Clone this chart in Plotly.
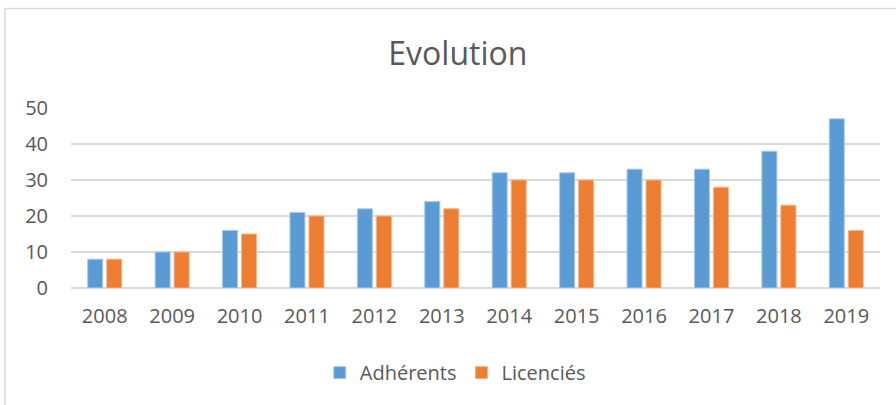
import plotly.graph_objects as go

years = ["2008", "2009", "2010", "2011", "2012", "2013", "2014", "2015", "2016", "2017", "2018", "2019"]
adherents = [8, 10, 16, 21, 22, 24, 32, 32, 33, 33, 38, 47]
licencies = [8, 10, 15, 20, 20, 22, 30, 30, 30, 28, 23, 16]
y_ticks = [0, 10, 20, 30, 40, 50]

FONT = "Open Sans"
TXT = "#595959"

fig = go.Figure()
fig.add_trace(go.Bar(
    x=years, y=adherents, name="Adhérents",
    marker=dict(color="#5B9BD5", line=dict(color="#A9C9EA", width=1)),
))
fig.add_trace(go.Bar(
    x=years, y=licencies, name="Licenciés",
    marker=dict(color="#ED7D31", line=dict(color="#F5B48A", width=1)),
))

fig.update_layout(
    width=896, height=405,
    margin=dict(l=71, r=16, t=108, b=117),
    paper_bgcolor="white", plot_bgcolor="white",
    barmode="group", bargap=0.436, bargroupgap=0.21,
    font=dict(family=FONT, color=TXT, size=20),
    title=dict(text="Evolution", x=0.511, xanchor="center", y=0.868, yanchor="middle",
               xref="container", font=dict(family=FONT, size=32, color=TXT)),
    showlegend=True,
    legend=dict(orientation="h", x=0.475, xanchor="center", y=-0.47, yanchor="middle",
                font=dict(family=FONT, size=20, color=TXT), itemwidth=30,
                traceorder="normal"),
    xaxis=dict(showgrid=False, showline=False, ticks="", tickfont=dict(size=20, color=TXT),
               ticklabelstandoff=14),
    yaxis=dict(range=[0, 50], tickvals=y_ticks, showgrid=True, gridcolor="#D9D9D9", gridwidth=2,
               zeroline=True, zerolinecolor="#D9D9D9", zerolinewidth=2, showline=False, ticks="",
               tickfont=dict(size=20, color=TXT), ticklabelstandoff=22),
    shapes=[
        dict(type="line", xref="paper", yref="paper", x0=(5 - 71) / 809, x1=1.03,
             y0=(288 - 8.5) / 180, y1=(288 - 8.5) / 180, line=dict(color="#D9D9D9", width=1.5)),
        dict(type="line", xref="paper", yref="paper", x0=(5 - 71) / 809, x1=(5 - 71) / 809,
             y0=(288 - 8.5) / 180, y1=-0.7, line=dict(color="#D9D9D9", width=1.5)),
    ],
)

fig.write_html("out.html", config={"displayModeBar": False},
               post_script="document.body.style.margin='0';document.body.style.overflow='hidden';")
